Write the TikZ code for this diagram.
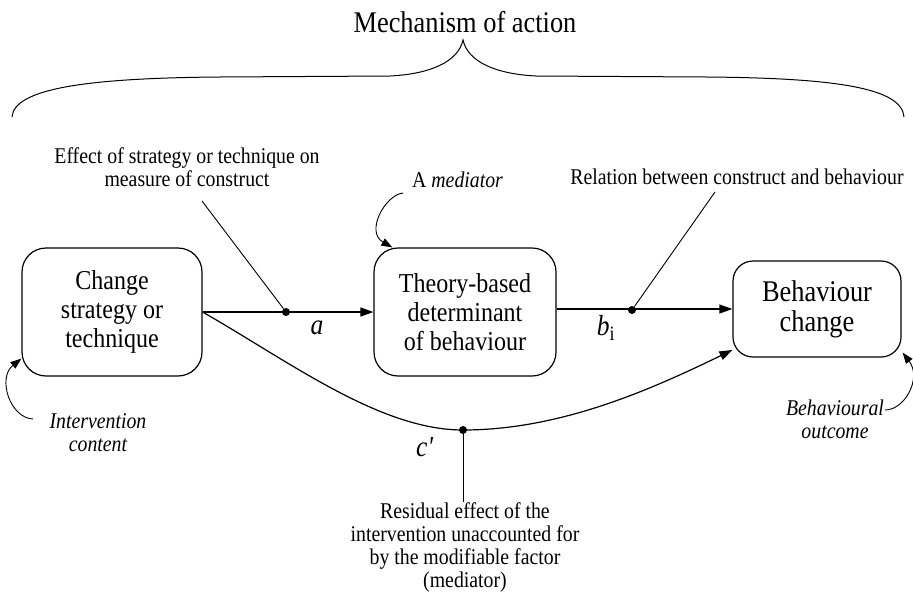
\documentclass[tikz,border=0pt]{standalone}
\usepackage{fontspec}
\setmainfont[FakeStretch=0.88]{Liberation Serif}
\usetikzlibrary{arrows.meta,calc}
\begin{document}
\begin{tikzpicture}[x=1pt,y=-1pt,
  box/.style={draw,line width=1.2pt,rounded corners=24pt,align=center,inner sep=0pt},
  boxtext/.style={font=\fontsize{27.3}{29}\selectfont},
  note/.style={font=\fontsize{22.5}{23}\selectfont,align=center,inner sep=0pt},
  inote/.style={note,font=\fontsize{22.5}{23}\selectfont\itshape},
  coef/.style={font=\fontsize{29}{30}\selectfont\itshape,inner sep=0pt},
  link/.style={line width=1.2pt,-{Triangle[length=13pt,width=9pt]}},
  lead/.style={line width=0.9pt},
  pointer/.style={line width=0.9pt,-{Triangle[length=11pt,width=8pt]}},
  dot/.style={circle,fill,inner sep=0pt,minimum size=8pt}]
\useasboundingbox (0,0) rectangle (913,600);

% title and brace
\node[font=\fontsize{30}{30}\selectfont,inner sep=0pt] (title) at (465,22) {Mechanism of action};
\draw[line width=1pt] (12,117) .. controls (14,88) and (90,78) .. (220,77) -- (390,76)
  .. controls (430,74) and (458,62) .. (463,40)
  .. controls (468,62) and (496,74) .. (536,76) -- (706,77)
  .. controls (836,78) and (902,88) .. (904,117);

% boxes
\node[box,boxtext,minimum width=180pt,minimum height=128pt] (L) at (112,312) {Change\\strategy or\\technique};
\node[box,boxtext,minimum width=182pt,minimum height=128pt] (M) at (465,312) {Theory-based\\determinant\\of behaviour};
\node[box,minimum width=168pt,minimum height=96pt,rounded corners=20pt,font=\fontsize{30}{30}\selectfont] (R) at (817,309) {Behaviour\\change};

% paths a, b and c'
\draw[link] (L.east) -- (M.west);
\draw[link] (M.east |- R.west) -- (R.west);
\coordinate (rin) at ($(R.west)+(0,41)$);
\draw[link] (L.east) .. controls (290,362) and (380,430) .. (463,430)
  .. controls (560,430) and (650,390) .. (rin);

\node[dot] (da) at (286,312) {};
\node[dot] (db) at (632,310) {};
\node[dot] (dc) at (463,430) {};

\node[coef] (la) at (317,328) {a};
\node[coef] (lb) at (606,328) {b\textsubscript{\upshape i}};
\node[coef] (lc) at (425,447) {c\textquotesingle};

% annotations
\node[note] (effect) at (187,167) {Effect of strategy or technique on\\measure of construct};
\node[note,anchor=west] (med) at (412,180) {A \textit{mediator}};
\node[note] (rel) at (737,177) {Relation between construct and behaviour};
\node[note] (resid) at (465,547) {Residual effect of the\\intervention unaccounted for\\by the modifiable factor\\(mediator)};
\node[inote] (ic) at (98,433) {Intervention\\content};
\node[inote] (bo) at (835,419) {Behavioural\\outcome};

\coordinate (ea) at (202,201);
\coordinate (eb) at (715,192);
\coordinate (ec) at (463,502);
\draw[lead] (da) -- (ea);
\draw[lead] (db) -- (eb);
\draw[lead] (dc) -- (ec);

% curved pointers
\coordinate (ms) at (403,193);
\coordinate (mtip) at ($(M.north west)+(19,0)$);
\draw[pointer] (ms) .. controls (385,195) and (365,232) .. (mtip);

\coordinate (is) at (33,419);
\coordinate (itip) at ($(L.south west)+(0,-18)$);
\draw[pointer] (is) .. controls (10,418) and (-3,378) .. (itip);

\coordinate (bs) at (885,410);
\coordinate (btip) at ($(R.south east)+(1,-5)$);
\draw[pointer] (bs) .. controls (905,410) and (922,378) .. (btip);
\end{tikzpicture}
\end{document}
